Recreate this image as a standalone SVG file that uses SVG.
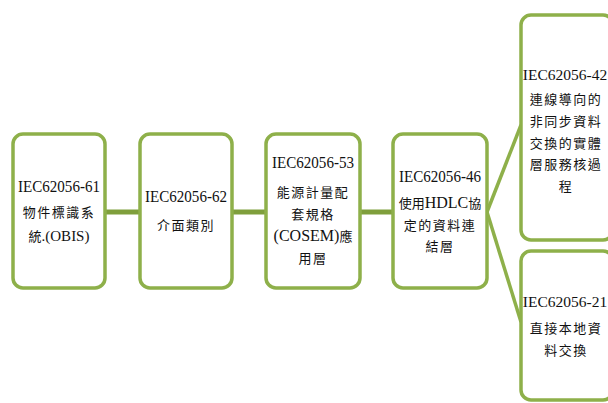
<svg xmlns="http://www.w3.org/2000/svg" width="608" height="403" viewBox="0 0 608 403">
<style>
.box{fill:#fff;stroke:#8eb04a;stroke-width:3.5}
.ln{stroke:#7f9f3c;stroke-width:5;fill:none}
.dg{stroke:#8eb04a;stroke-width:3.5;fill:none}
text{font-family:"Liberation Serif","Noto Sans CJK TC",serif;fill:#111;text-anchor:middle}
.t{font-size:17px}
.c{font-size:13px;letter-spacing:1.5px}
</style>
<rect width="608" height="403" fill="#fff"/>
<g id="connectors">
<line class="ln" x1="105" y1="212" x2="140" y2="212"/>
<line class="ln" x1="232" y1="212" x2="266" y2="212"/>
<line class="ln" x1="360" y1="212" x2="393" y2="212"/>
<line class="dg" x1="487" y1="212" x2="521" y2="125"/>
<line class="dg" x1="487" y1="212" x2="521" y2="322"/>
</g>
<g id="n61">
<rect class="box" x="13" y="134" width="92" height="154" rx="10"/>
<text class="t" x="59" y="192" textLength="82" lengthAdjust="spacingAndGlyphs">IEC62056-61</text>
<text class="c" x="59" y="217">物件標識系</text>
<text x="59" y="241" font-size="15"><tspan font-size="13">統</tspan>.(OBIS)</text>
</g>
<g id="n62">
<rect class="box" x="140" y="134" width="92" height="154" rx="10"/>
<text class="t" x="186" y="202" textLength="82" lengthAdjust="spacingAndGlyphs">IEC62056-62</text>
<text class="c" x="186" y="230">介面類別</text>
</g>
<g id="n53">
<rect class="box" x="266" y="134" width="94" height="154" rx="10"/>
<text class="t" x="313" y="168" textLength="82" lengthAdjust="spacingAndGlyphs">IEC62056-53</text>
<text class="c" x="313" y="197">能源計量配</text>
<text class="c" x="313" y="219">套規格</text>
<text x="313" y="241" font-size="16">(COSEM)<tspan font-size="13">應</tspan></text>
<text class="c" x="313" y="263">用層</text>
</g>
<g id="n46">
<rect class="box" x="393" y="134" width="94" height="154" rx="10"/>
<text class="t" x="440" y="182" textLength="82" lengthAdjust="spacingAndGlyphs">IEC62056-46</text>
<text x="440" y="208" font-size="16"><tspan font-size="13">使用</tspan>HDLC<tspan font-size="13">協</tspan></text>
<text class="c" x="440" y="230">定的資料連</text>
<text class="c" x="440" y="251">結層</text>
</g>
<g id="n42">
<rect class="box" x="521" y="15" width="92" height="225" rx="10"/>
<text x="565" y="80" font-size="15.5">IEC62056-42</text>
<text class="c" x="566" y="104">連線導向的</text>
<text class="c" x="566" y="126">非同步資料</text>
<text class="c" x="566" y="148">交換的實體</text>
<text class="c" x="566" y="169">層服務核過</text>
<text class="c" x="566" y="191">程</text>
</g>
<g id="n21">
<rect class="box" x="521" y="251" width="92" height="149" rx="10"/>
<text x="565" y="307" font-size="15.5">IEC62056-21</text>
<text class="c" x="566" y="333">直接本地資</text>
<text class="c" x="566" y="355">料交換</text>
</g>
</svg>
